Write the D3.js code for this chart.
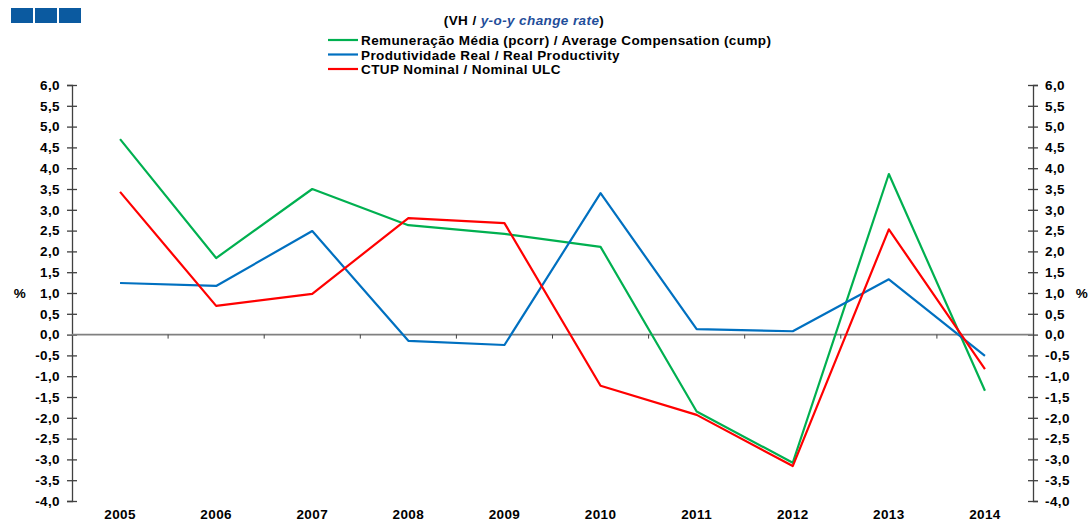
<!DOCTYPE html>
<html>
<head>
<meta charset="utf-8">
<script src="https://cdn.jsdelivr.net/npm/d3@7"></script>
<style>
  body { margin: 0; background: #fff; }
  text { font-family: "Liberation Sans", Arial, sans-serif; letter-spacing: 0.4px; }
</style>
</head>
<body>
<div id="chart"></div>
<script>
// données
const years = ["2005", "2006", "2007", "2008", "2009", "2010", "2011", "2012", "2013", "2014"];
const remuneracao = [4.70, 1.84, 3.50, 2.63, 2.42, 2.11, -1.85, -3.08, 3.86, -1.35];
const produtividade = [1.24, 1.17, 2.49, -0.15, -0.25, 3.40, 0.13, 0.08, 1.33, -0.51];
const ctup = [3.43, 0.69, 0.98, 2.80, 2.68, -1.23, -1.93, -3.16, 2.53, -0.83];
const yTicks = d3.range(-4, 6.01, 0.5);
const seriesNames = [
    "Remuneração Média (pcorr) / Average Compensation (cump)",
    "Produtividade Real / Real Productivity",
    "CTUP Nominal / Nominal ULC"
];
const seriesColors = ["#00b050", "#0070c0", "#ff0000"];
const seriesData = [remuneracao, produtividade, ctup];

const width = 1090, height = 522;
const plotLeft = 72, plotRight = 1033, plotTop = 85, plotBottom = 501;
const fontSize = "13.5px";

const svg = d3.select("#chart").append("svg")
    .attr("width", width)
    .attr("height", height);

// logo : trois carrés bleus
svg.selectAll(".logo")
    .data([0, 1, 2])
    .enter().append("rect")
    .attr("x", d => 11 + d * 24)
    .attr("y", 8)
    .attr("width", 22)
    .attr("height", 15)
    .style("fill", "#0b5aa0");

const x = d3.scaleBand().domain(years).range([plotLeft, plotRight]);
const y = d3.scaleLinear().domain([-4, 6]).range([plotBottom, plotTop]);

const fmt = v => d3.format(".1f")(v).replace(".", ",").replace("−", "-");

// axe gauche
const yLeft = svg.append("g")
    .attr("transform", "translate(" + plotLeft + ",0)")
    .call(d3.axisLeft(y).tickValues(yTicks).tickSize(5).tickFormat(fmt).tickPadding(7));
// axe droit
const yRight = svg.append("g")
    .attr("transform", "translate(" + plotRight + ",0)")
    .call(d3.axisRight(y).tickValues(yTicks).tickSize(5).tickFormat(fmt).tickPadding(7));

[yLeft, yRight].forEach(g => {
    g.select(".domain").attr("stroke", "#404040").attr("stroke-width", 1.3);
    g.selectAll(".tick line").attr("stroke", "#404040").attr("stroke-width", 1.3)
        .attr("x1", -5).attr("x2", 5);
    g.selectAll(".tick text")
        .style("font-size", fontSize)
        .style("font-weight", "bold")
        .style("fill", "#000");
});
yLeft.selectAll(".tick text").attr("x", -12);
yRight.selectAll(".tick text").attr("x", 12);

// ligne du zéro + graduations des catégories
svg.append("line")
    .attr("x1", plotLeft).attr("x2", plotRight)
    .attr("y1", y(0)).attr("y2", y(0))
    .style("stroke", "#808080")
    .style("stroke-width", 1.6);

svg.selectAll(".cattick")
    .data(years.slice(1))
    .enter().append("line")
    .attr("x1", d => x(d)).attr("x2", d => x(d))
    .attr("y1", y(0)).attr("y2", y(0) + 4)
    .style("stroke", "#404040")
    .style("stroke-width", 1);

// étiquettes des années
svg.selectAll(".yearlabel")
    .data(years)
    .enter().append("text")
    .attr("x", d => x(d) + x.bandwidth() / 2)
    .attr("y", 519)
    .attr("text-anchor", "middle")
    .style("font-size", fontSize)
    .style("font-weight", "bold")
    .text(d => d);

// symbole %
svg.append("text").attr("x", 20).attr("y", y(1) + 5)
    .attr("text-anchor", "middle")
    .style("font-size", fontSize).style("font-weight", "bold").text("%");
svg.append("text").attr("x", 1082).attr("y", y(1) + 5)
    .attr("text-anchor", "middle")
    .style("font-size", fontSize).style("font-weight", "bold").text("%");

// courbes
const line = d3.line()
    .x((d, i) => x(years[i]) + x.bandwidth() / 2)
    .y(d => y(d));

svg.selectAll(".serie")
    .data(seriesData)
    .enter().append("path")
    .attr("d", line)
    .style("fill", "none")
    .style("stroke", (d, i) => seriesColors[i])
    .style("stroke-width", 2.2)
    .style("stroke-linejoin", "round");

// titre
const title = svg.append("text")
    .attr("x", 524)
    .attr("y", 25)
    .attr("text-anchor", "middle")
    .style("font-size", fontSize)
    .style("font-weight", "bold");
title.append("tspan").text("(VH / ");
title.append("tspan").style("fill", "#1f4e9a").style("font-style", "italic").text("y-o-y change rate");
title.append("tspan").text(")");

// légende
const legend = svg.append("g");
seriesNames.forEach((name, i) => {
    const ly = 40 + i * 14.5;
    legend.append("line")
        .attr("x1", 328).attr("x2", 358)
        .attr("y1", ly).attr("y2", ly)
        .style("stroke", seriesColors[i])
        .style("stroke-width", 2.2);
    legend.append("text")
        .attr("x", 361)
        .attr("y", ly + 5)
        .style("font-size", fontSize)
        .style("font-weight", "bold")
        .text(name);
});
</script>
</body>
</html>
